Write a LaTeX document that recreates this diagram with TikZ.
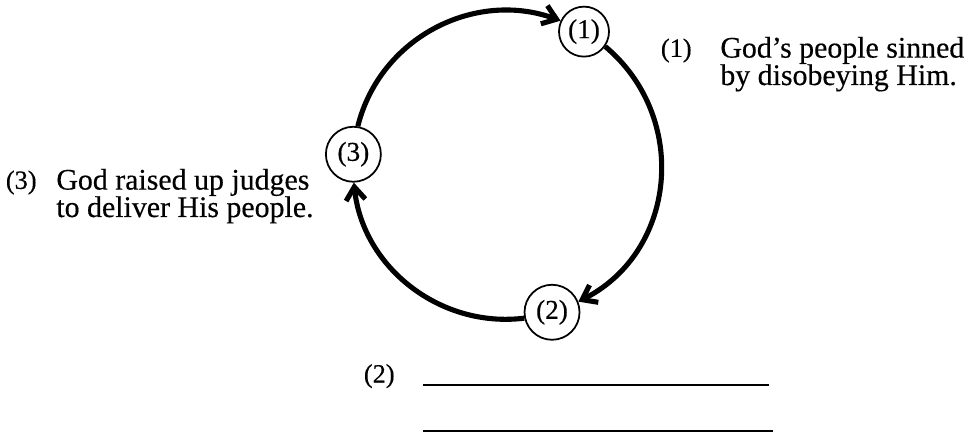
\documentclass[tikz,border=0pt]{standalone}
\usepackage{fontspec}
\setmainfont{Liberation Serif}[FakeBold=0.4]
\usetikzlibrary{arrows.meta, positioning}

\begin{document}
\begin{tikzpicture}[
  node distance=0.56cm,
  stage/.style={circle, draw, line width=1pt, fill=white, minimum size=1.1cm,
    inner sep=0pt, font=\fontsize{15.5}{16}\selectfont},
  caption/.style={inner sep=0pt, align=left, font=\fontsize{17}{15.6}\selectfont},
  numlabel/.style={inner sep=0pt, font=\fontsize{15}{16}\selectfont},
  cyclearrow/.style={-{Straight Barb[length=7.5pt, width=11pt]}, line width=2.9pt},
  blank/.style={line width=1.2pt}
]
\useasboundingbox (0,0) rectangle (19.38,8.74);
\coordinate (c) at (10.14,5.44);

% stages round the cycle
\node[stage, minimum size=1.0cm] (n1) at ([shift={(60:3.08)}]c) {(1)};
\node[stage] (n2) at ([shift={(-73:3.08)}]c) {(2)};
\node[stage] (n3) at ([shift={(176:3.08)}]c) {(3)};

% arcs between the stages
\draw[cyclearrow] (n3.81) to[out=76, in=160, looseness=1.02] (n1.155);
\draw[cyclearrow] (n1.-35) to[out=-40, in=27, looseness=1.1] (n2.22);
\draw[cyclearrow] (n2.192) to[out=187, in=276, looseness=1.0] (n3.-89);

% captions
\node[caption, anchor=north west] (txt1) at (14.40,8.01) {God's people sinned\\by disobeying Him.};
\node[numlabel, anchor=base east] (lab1) at ([shift={(-0.56,-11.6pt)}]txt1.north west) {(1)};

\node[caption, anchor=north west] (txt3) at (1.12,5.37) {God raised up judges\\to deliver His people.};
\node[numlabel, anchor=base east] (lab3) at ([shift={(-0.38,-11.6pt)}]txt3.north west) {(3)};

% blank for stage 2
\coordinate (blank1) at (8.46,1.04);
\coordinate (blank2) at (8.46,0.12);
\draw[blank] (blank1) -- ++(6.92,0);
\draw[blank] (blank2) -- ++(7.00,0);
\node[numlabel, anchor=base east] (lab2) at ([shift={(-0.56,0.05)}]blank1) {(2)};
\end{tikzpicture}
\end{document}
